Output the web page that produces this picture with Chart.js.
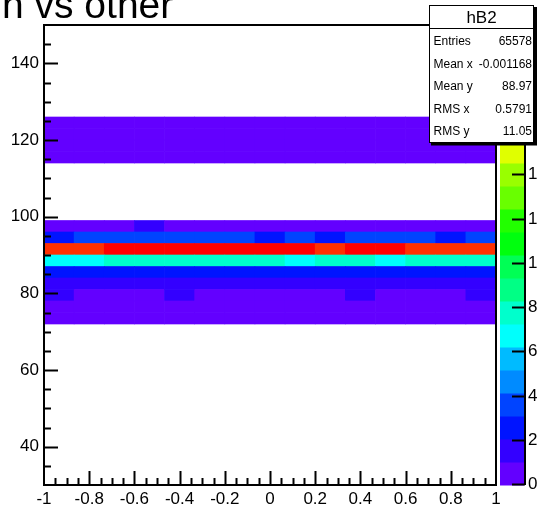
<!DOCTYPE html>
<html>
<head>
<meta charset="utf-8">
<script src="https://cdn.jsdelivr.net/npm/chart.js@4.4.1/dist/chart.umd.min.js"></script>
<style>
  html, body { margin: 0; padding: 0; background: #fff; }
  #wrap { width: 537px; height: 505px; position: relative; }
</style>
</head>
<body>
<div id="wrap"><canvas id="c" width="537" height="505"></canvas></div>
<script>
  "use strict";

  // x bins (15 bins on [-1, 1])
  const xEdges = [-1, -0.86667, -0.73333, -0.6, -0.46667, -0.33333, -0.2, -0.06667,
    0.06667, 0.2, 0.33333, 0.46667, 0.6, 0.73333, 0.86667, 1];
  // y bins (width 3), lower edges of filled rows
  const Y_BIN = 3;
  const yRowLow = [72, 75, 78, 81, 84, 87, 90, 93, 96, 114, 117, 120, 123];
  const yTickVals = [40, 60, 80, 100, 120, 140];

  // bin contents, one list per y row (x from left to right)
  const cellsY72 = [38, 41, 36, 40, 39, 42, 37, 40, 41, 38, 39, 40, 37, 42, 39];
  const cellsY75 = [72, 70, 75, 69, 74, 71, 73, 76, 70, 72, 74, 69, 71, 75, 73];
  const cellsY78 = [112, 96, 92, 98, 110, 95, 99, 94, 97, 93, 115, 96, 98, 94, 118];
  const cellsY81 = [168, 172, 165, 170, 175, 169, 171, 166, 173, 170, 167, 174, 169, 172, 176];
  const cellsY84 = [265, 270, 262, 268, 272, 260, 266, 271, 264, 269, 263, 267, 270, 261, 268];
  const cellsY87 = [690, 700, 765, 770, 758, 772, 764, 768, 705, 760, 775, 698, 762, 770, 766];
  const cellsY90 = [1930, 1950, 2010, 2040, 2065, 2020, 2050, 2080, 2030, 1960, 2045, 2025, 1955, 1940, 1935];
  const cellsY93 = [300, 350, 340, 355, 345, 360, 348, 295, 352, 290, 358, 342, 350, 298, 346];
  const cellsY96 = [82, 78, 85, 118, 80, 84, 79, 83, 81, 86, 77, 80, 84, 82, 79];
  const cellsY114 = [52, 55, 50, 54, 53, 51, 56, 52, 54, 50, 53, 55, 51, 52, 54];
  const cellsY117 = [58, 56, 60, 57, 59, 55, 58, 61, 57, 59, 56, 58, 60, 57, 59];
  const cellsY120 = [57, 59, 55, 58, 56, 60, 57, 55, 59, 58, 56, 57, 59, 56, 58];
  const cellsY123 = [50, 52, 49, 51, 53, 50, 48, 52, 51, 49, 52, 50, 51, 53, 50];
  const rowCells = [cellsY72, cellsY75, cellsY78, cellsY81, cellsY84, cellsY87, cellsY90,
    cellsY93, cellsY96, cellsY114, cellsY117, cellsY120, cellsY123];

  // z scale / palette axis
  const Z_MAX = 2080;
  const N_CONTOURS = 20;
  const zTicks = [0, 200, 400, 600, 800, 1000, 1200, 1400, 1600, 1800, 2000];

  // stats box
  const statsName = "hB2";
  const statsRows = [
    ["Entries", "65578"],
    ["Mean x", "-0.001168"],
    ["Mean y", "88.97"],
    ["RMS x", "0.5791"],
    ["RMS y", "11.05"]
  ];
  const titleText = "h vs other";

  // ROOT "pretty palette" colours picked for 20 contours
  const palette = ["#6300ff", "#3300ff", "#0014ff", "#0044ff", "#008bff", "#00bbff",
    "#00fffc", "#00ffcc", "#00ff85", "#00ff55", "#00ff0e", "#22ff00", "#69ff00",
    "#99ff00", "#e0ff00", "#ffee00", "#ffa700", "#ff7700", "#ff3000", "#ff0000"];

  const FONT = "Liberation Sans, Arial, sans-serif";

  function levelColor(v) {
    const k = Math.min(N_CONTOURS - 1, Math.floor(v / (Z_MAX / N_CONTOURS)));
    return palette[k];
  }

  const xCenters = xEdges.slice(0, -1).map((e, i) => (e + xEdges[i + 1]) / 2);

  const datasets = yRowLow.map((lo, r) => ({
    data: xCenters.map((xc) => ({ x: xc, y: [lo, lo + Y_BIN] })),
    backgroundColor: rowCells[r].map(levelColor),
    borderWidth: 0,
    grouped: false,
    barPercentage: 1,
    categoryPercentage: 1
  }));

  // frame, inward ticks, palette axis, stats box, title
  const rootDeco = {
    id: "rootDeco",
    afterDraw(chart) {
      const ctx = chart.ctx;
      const { left, right, top, bottom } = chart.chartArea;
      const xs = chart.scales.x, ys = chart.scales.y, zs = chart.scales.z;
      ctx.save();
      ctx.strokeStyle = "#000";
      ctx.lineWidth = 2;

      // x ticks: major 0.2, minor 0.05
      for (let k = 1; k < 40; k++) {
        const px = Math.round(xs.getPixelForValue(-1 + k * 0.05)) + 0.5;
        const len = k % 4 === 0 ? 14 : 7;
        ctx.beginPath();
        ctx.moveTo(px, bottom);
        ctx.lineTo(px, bottom - len);
        ctx.stroke();
      }
      // y ticks: major 20, minor 5
      for (let k = 1; k < 24; k++) {
        const v = 30 + k * 5;
        const py = Math.round(ys.getPixelForValue(v)) + 0.5;
        const len = yTickVals.includes(v) ? 14 : 7;
        ctx.beginPath();
        ctx.moveTo(left, py);
        ctx.lineTo(left + len, py);
        ctx.stroke();
      }
      ctx.strokeRect(left, top, right - left, bottom - top);

      // palette (colour bar)
      const bx0 = right + 4, bx1 = right + 28;
      const dz = Z_MAX / N_CONTOURS;
      for (let k = 0; k < N_CONTOURS; k++) {
        const y0 = zs.getPixelForValue(k * dz);
        const y1 = zs.getPixelForValue((k + 1) * dz);
        ctx.fillStyle = palette[k];
        ctx.fillRect(bx0, y1, bx1 - bx0, y0 - y1 + 0.5);
      }
      const axX = bx1 + 1;
      ctx.beginPath();
      ctx.moveTo(axX, zs.getPixelForValue(0));
      ctx.lineTo(axX, zs.getPixelForValue(Z_MAX));
      ctx.stroke();
      ctx.fillStyle = "#000";
      ctx.font = "17px " + FONT;
      ctx.textAlign = "left";
      ctx.textBaseline = "middle";
      zTicks.forEach((t) => {
        const py = Math.round(zs.getPixelForValue(t)) - 0.5;
        ctx.beginPath();
        ctx.moveTo(axX, py);
        ctx.lineTo(axX - 13, py);
        ctx.stroke();
        ctx.fillText(String(t), axX + 3, py);
      });

      // stats box with shadow
      const sx = 429.5, sy = 5.5, sw = 104, sh = 137;
      ctx.fillStyle = "#000";
      ctx.fillRect(sx + 1.5, sy + 1.5, 537 - sx, sh + 1.5);
      ctx.fillStyle = "#fff";
      ctx.fillRect(sx, sy, sw, sh);
      ctx.lineWidth = 1;
      ctx.strokeRect(sx, sy, sw, sh);
      ctx.beginPath();
      ctx.moveTo(sx, 28.5);
      ctx.lineTo(sx + sw, 28.5);
      ctx.stroke();
      ctx.fillStyle = "#000";
      ctx.font = "17px " + FONT;
      ctx.textAlign = "center";
      ctx.fillText(statsName, sx + sw / 2, 18);
      ctx.font = "12px " + FONT;
      statsRows.forEach((row, i) => {
        const ry = 42 + i * 22.4;
        ctx.textAlign = "left";
        ctx.fillText(row[0], sx + 4, ry);
        ctx.textAlign = "right";
        ctx.fillText(row[1], sx + sw - 1.5, ry);
      });

      // title (cut by the top of the canvas)
      ctx.font = "39px " + FONT;
      ctx.textAlign = "left";
      ctx.textBaseline = "alphabetic";
      ctx.fillText(titleText, 2, 18);
      ctx.restore();
    }
  };

  const tickFont = { family: FONT, size: 17 };

  new Chart(document.getElementById("c"), {
    type: "bar",
    data: { datasets: datasets },
    options: {
      responsive: false,
      animation: false,
      devicePixelRatio: 1,
      layout: { padding: { top: 25, right: 41, left: 0, bottom: 0 } },
      plugins: {
        legend: { display: false },
        tooltip: { enabled: false },
        title: { display: false }
      },
      scales: {
        x: {
          type: "linear",
          min: -1,
          max: 1,
          offset: false,
          grid: { display: false, drawTicks: false },
          border: { display: false },
          ticks: {
            stepSize: 0.2,
            includeBounds: false,
            autoSkip: false,
            maxRotation: 0,
            padding: 4,
            color: "#000",
            font: tickFont,
            callback: (v) => String(Math.round(v * 10) / 10)
          },
          afterFit: (s) => { s.height = 20; }
        },
        y: {
          type: "linear",
          min: 30,
          max: 150,
          grid: { display: false, drawTicks: false },
          border: { display: false },
          ticks: {
            autoSkip: false,
            padding: 5,
            color: "#000",
            font: tickFont
          },
          afterBuildTicks: (s) => { s.ticks = yTickVals.map((v) => ({ value: v })); },
          afterFit: (s) => { s.width = 44; }
        },
        z: {
          type: "linear",
          position: "right",
          display: false,
          min: 0,
          max: Z_MAX
        }
      }
    },
    plugins: [rootDeco]
  });
</script>
</body>
</html>
